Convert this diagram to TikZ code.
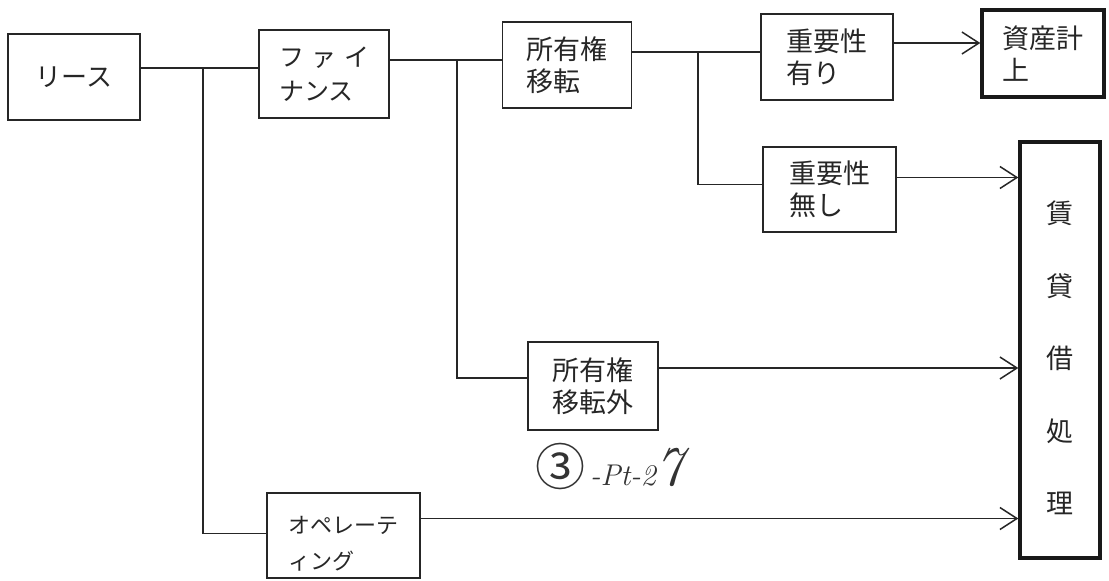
\documentclass[tikz,border=0pt]{standalone}
\usepackage{fontspec}
\newfontfamily\jp{Noto Sans CJK JP}
\usetikzlibrary{arrows.meta}
\tikzset{
  box/.style={draw=black!85, line width=1.6pt, inner sep=0pt, align=left, font=\jp\fontsize{27}{32}\selectfont, text=black!85},
  thickbox/.style={draw=black!90, line width=3.4pt, inner sep=0pt, align=left, font=\jp\fontsize{27}{32}\selectfont, text=black!85},
  conn/.style={draw=black!85, line width=1.6pt},
  arr/.style={conn, -{Straight Barb[length=17pt,width=22pt,line width=1.5pt]}},
}
\begin{document}
\begin{tikzpicture}[x=1pt,y=-1pt]
\useasboundingbox (0,0) rectangle (1109,581);
\fill[white] (0,0) rectangle (1109,581);
% boxes
\node[box, minimum width=132pt, minimum height=86pt, font=\jp\fontsize{26}{32}\selectfont] (lease) at (74,77) {リース};
\node[box, minimum width=130pt, minimum height=88pt, font=\jp\fontsize{25}{34}\selectfont] (finance) at (324,74) {フ\hspace{0.3em}ァ\hspace{0.3em}イ\\ナンス};
\node[box, minimum width=129pt, minimum height=86pt] (own) at (567,65) {所有権\\移転};
\node[box, minimum width=132pt, minimum height=86pt] (imp1) at (827,57) {重要性\\有り};
\node[thickbox, minimum width=122pt, minimum height=87pt] (asset) at (1043,53.5) {資産計\\上};
\node[box, minimum width=133pt, minimum height=85pt] (imp0) at (829.5,189.5) {重要性\\無し};
\node[box, minimum width=130pt, minimum height=88pt] (ownx) at (593,386) {所有権\\移転外};
\node[box, minimum width=153pt, minimum height=85pt] (oper) at (343.5,535.5) {};
\node[inner sep=0pt, align=left, text=black!85, font=\jp\fontsize{22}{36}\selectfont] (opertext) at ([yshift=-8pt]oper.center) {オペレーテ\\ィング};
\node[thickbox, minimum width=80pt, minimum height=416pt] (rent) at (1060,350) {};
\node[inner sep=0pt, align=center, text=black!85, font=\jp\fontsize{27}{72.5}\selectfont] (renttext) at ([yshift=-8pt]rent.center) {賃\\貸\\借\\処\\理};
% junctions
\coordinate (j1) at (203,68);
\coordinate (j2) at (457,60);
\coordinate (j3) at (698,52);
% connectors
\draw[conn] (lease.east |- j1) -- (finance.west |- j1);
\draw[conn] (j1) |- ([yshift=2pt]oper.west);
\draw[conn] (finance.east |- j2) -- (own.west |- j2);
\draw[conn] (j2) |- ([yshift=8pt]ownx.west);
\draw[conn] (own.east |- j3) -- (imp1.west |- j3);
\draw[conn] (j3) |- ([yshift=5pt]imp0.west);
\draw[arr] ([yshift=14pt]imp1.east) -- ([yshift=14pt]imp1.east -| asset.west);
\draw[arr] ([yshift=12pt]imp0.east) -- ([yshift=12pt]imp0.east -| rent.west);
\draw[arr] ([yshift=18pt]ownx.east) -- ([yshift=18pt]ownx.east -| rent.west);
\draw[arr] ([yshift=17pt]oper.east) -- ([yshift=17pt]oper.east -| rent.west);
% handwritten note
\node[anchor=west, inner sep=0pt, text=black!80] (note) at (535,466) {{\jp\fontsize{50}{50}\selectfont ③}{\fontsize{30}{30}\selectfont\itshape\,-Pt-2}{\fontsize{56}{56}\selectfont\itshape 7}};
\end{tikzpicture}
\end{document}
